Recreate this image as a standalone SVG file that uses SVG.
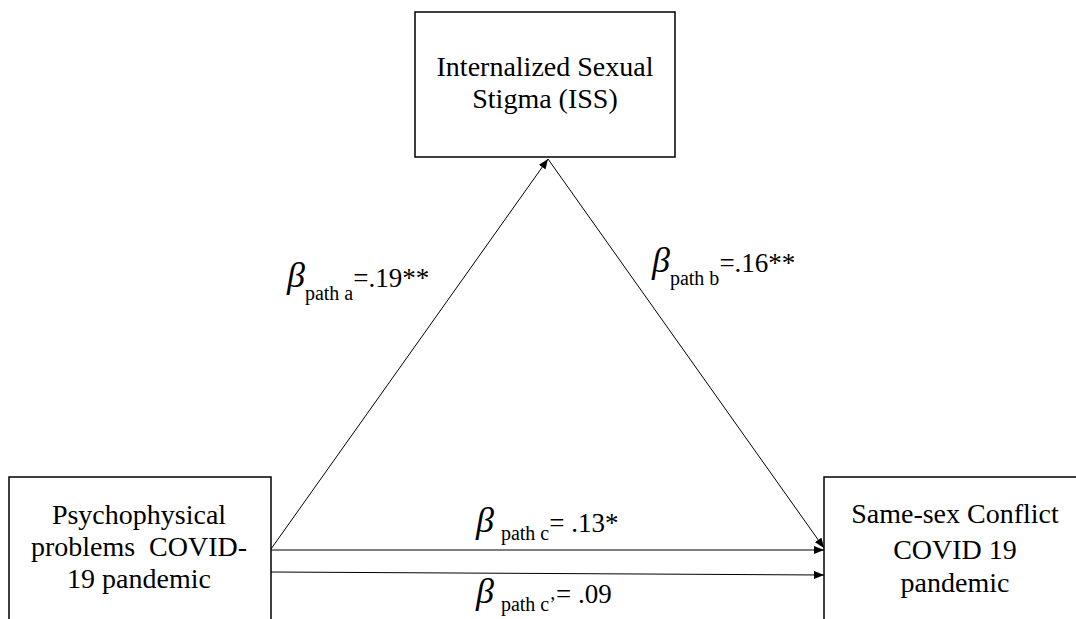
<svg xmlns="http://www.w3.org/2000/svg" width="1076" height="619" viewBox="0 0 1076 619">
<defs>
<marker id="ah" markerUnits="userSpaceOnUse" markerWidth="10" markerHeight="8" refX="10" refY="4" orient="auto">
<path d="M0,0 L10,4 L0,8 z" fill="#000"/>
</marker>
</defs>
<rect width="1076" height="619" fill="#fff"/>
<g id="node-iss">
<rect x="415" y="12" width="260" height="145" fill="#fff" stroke="#000" stroke-width="1.5"/>
<text x="545" y="76" font-family="Times New Roman" font-size="28" text-anchor="middle">Internalized Sexual</text>
<text x="545" y="108" font-family="Times New Roman" font-size="28" text-anchor="middle">Stigma (ISS)</text>
</g>
<g id="node-psy">
<rect x="9" y="477" width="262" height="170" fill="#fff" stroke="#000" stroke-width="1.5"/>
<text x="139" y="524" font-family="Times New Roman" font-size="28" text-anchor="middle">Psychophysical</text>
<text x="139" y="556" font-family="Times New Roman" font-size="28" text-anchor="middle" xml:space="preserve">problems  COVID-</text>
<text x="139" y="588" font-family="Times New Roman" font-size="28" text-anchor="middle">19 pandemic</text>
</g>
<g id="node-ssc">
<rect x="824" y="477" width="280" height="170" fill="#fff" stroke="#000" stroke-width="1.5"/>
<text x="955" y="523" font-family="Times New Roman" font-size="28" text-anchor="middle">Same-sex Conflict</text>
<text x="955" y="559" font-family="Times New Roman" font-size="28" text-anchor="middle">COVID 19</text>
<text x="955" y="592" font-family="Times New Roman" font-size="28" text-anchor="middle">pandemic</text>
</g>
<g id="connectors" stroke="#000" stroke-width="1" fill="none" marker-end="url(#ah)">
<line x1="271" y1="549" x2="548" y2="159"/>
<line x1="548" y1="159" x2="824" y2="548"/>
<line x1="271" y1="550" x2="824" y2="550"/>
<line x1="271" y1="572" x2="824" y2="575"/>
</g>
<g id="labels">
<text x="287" y="287" font-family="Times New Roman" font-size="27"><tspan font-style="italic" font-size="36">β</tspan><tspan font-size="20" dy="13">path a</tspan><tspan dy="-13">=.19**</tspan></text>
<text x="652" y="272" font-family="Times New Roman" font-size="27"><tspan font-style="italic" font-size="36">β</tspan><tspan font-size="20" dy="13">path b</tspan><tspan dy="-13">=.16**</tspan></text>
<text x="476" y="532" font-family="Times New Roman" font-size="27"><tspan font-style="italic" font-size="36">β</tspan><tspan font-size="20" dx="7" dy="8">path c</tspan><tspan dy="-8">= .13*</tspan></text>
<text x="476" y="603" font-family="Times New Roman" font-size="27"><tspan font-style="italic" font-size="36">β</tspan><tspan font-size="20" dx="7" dy="8">path c’</tspan><tspan dy="-8">= .09</tspan></text>
</g>
</svg>
